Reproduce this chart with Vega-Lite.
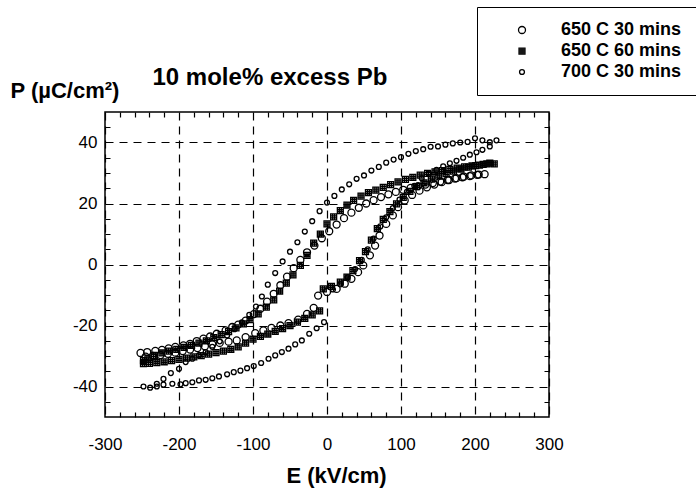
{
"$schema": "https://vega.github.io/schema/vega-lite/v6.json",
"width": 444, "height": 305,
"autosize": "none",
"padding": {"left": 105, "top": 112, "right": 147, "bottom": 86},
"background": "white",
"config": {
  "font": "Liberation Sans",
  "view": {"stroke": "black", "strokeWidth": 1.5},
  "axis": {"labelFont": "Liberation Sans", "titleFont": "Liberation Sans", "labelColor": "black", "titleColor": "black"}
},
"datasets": {"d": [
{"s":"a","E":213,"P":29.6},{"s":"a","E":203,"P":29.4},{"s":"a","E":193,"P":29.0},{"s":"a","E":183,"P":28.6},{"s":"a","E":173,"P":28.2},{"s":"a","E":163,"P":27.7},{"s":"a","E":153,"P":27.2},{"s":"a","E":143,"P":26.7},{"s":"a","E":133,"P":26.2},{"s":"a","E":123,"P":25.7},{"s":"a","E":113,"P":25.1},{"s":"a","E":103,"P":24.5},{"s":"a","E":93,"P":23.8},{"s":"a","E":83,"P":23.0},{"s":"a","E":73,"P":22.1},{"s":"a","E":63,"P":21.1},{"s":"a","E":53,"P":20.0},{"s":"a","E":43,"P":18.6},{"s":"a","E":33,"P":17.0},{"s":"a","E":23,"P":15.2},{"s":"a","E":13,"P":13.1},{"s":"a","E":3,"P":10.9},{"s":"a","E":-7,"P":8.6},{"s":"a","E":-17,"P":6.2},{"s":"a","E":-27,"P":4.0},{"s":"a","E":-36,"P":1.5},{"s":"a","E":-45,"P":-1.2},{"s":"a","E":-54,"P":-4.0},{"s":"a","E":-63,"P":-6.8},{"s":"a","E":-72,"P":-9.6},{"s":"a","E":-81,"P":-12.2},{"s":"a","E":-90,"P":-14.5},{"s":"a","E":-99,"P":-16.3},{"s":"a","E":-110,"P":-18.4},{"s":"a","E":-120,"P":-19.7},{"s":"a","E":-128,"P":-20.5},{"s":"a","E":-137,"P":-21.6},{"s":"a","E":-149,"P":-22.7},{"s":"a","E":-158,"P":-23.6},{"s":"a","E":-167,"P":-24.3},{"s":"a","E":-176,"P":-25.1},{"s":"a","E":-185,"P":-26.0},{"s":"a","E":-194,"P":-26.5},{"s":"a","E":-205,"P":-27.0},{"s":"a","E":-214,"P":-27.5},{"s":"a","E":-223,"P":-28.0},{"s":"a","E":-232,"P":-28.3},{"s":"a","E":-243,"P":-28.7},{"s":"a","E":-252,"P":-29.0},
{"s":"a","E":-245,"P":-30.2},{"s":"a","E":-235,"P":-30.0},{"s":"a","E":-225,"P":-29.7},{"s":"a","E":-215,"P":-29.3},{"s":"a","E":-205,"P":-28.9},{"s":"a","E":-195,"P":-28.4},{"s":"a","E":-185,"P":-27.9},{"s":"a","E":-175,"P":-27.4},{"s":"a","E":-165,"P":-26.8},{"s":"a","E":-155,"P":-26.2},{"s":"a","E":-145,"P":-25.7},{"s":"a","E":-133,"P":-25.3},{"s":"a","E":-122,"P":-24.9},{"s":"a","E":-110,"P":-23.8},{"s":"a","E":-97,"P":-22.5},{"s":"a","E":-86,"P":-21.6},{"s":"a","E":-75,"P":-20.8},{"s":"a","E":-63,"P":-20.0},{"s":"a","E":-52,"P":-19.2},{"s":"a","E":-39,"P":-18.1},{"s":"a","E":-27,"P":-16.2},{"s":"a","E":-18,"P":-14.2},{"s":"a","E":-12,"P":-10.2},{"s":"a","E":0,"P":-9.0},{"s":"a","E":13,"P":-8.0},{"s":"a","E":24,"P":-6.3},{"s":"a","E":33,"P":-4.7},{"s":"a","E":42,"P":-2.5},{"s":"a","E":49,"P":-0.3},{"s":"a","E":58,"P":3.0},{"s":"a","E":65,"P":6.2},{"s":"a","E":71,"P":9.5},{"s":"a","E":80,"P":13.3},{"s":"a","E":89,"P":16.1},{"s":"a","E":96,"P":18.8},{"s":"a","E":105,"P":21.0},{"s":"a","E":115,"P":22.8},{"s":"a","E":125,"P":24.2},{"s":"a","E":135,"P":25.3},{"s":"a","E":145,"P":26.2},{"s":"a","E":155,"P":27.0},{"s":"a","E":165,"P":27.7},{"s":"a","E":175,"P":28.3},{"s":"a","E":185,"P":28.8},{"s":"a","E":195,"P":29.2},{"s":"a","E":205,"P":29.5},
{"s":"b","E":226,"P":33.0},{"s":"b","E":216,"P":33.0},{"s":"b","E":206,"P":32.6},{"s":"b","E":196,"P":32.3},{"s":"b","E":186,"P":32.0},{"s":"b","E":176,"P":31.6},{"s":"b","E":166,"P":31.2},{"s":"b","E":156,"P":30.8},{"s":"b","E":146,"P":30.4},{"s":"b","E":136,"P":29.9},{"s":"b","E":126,"P":29.3},{"s":"b","E":116,"P":28.6},{"s":"b","E":106,"P":27.9},{"s":"b","E":96,"P":27.1},{"s":"b","E":86,"P":26.2},{"s":"b","E":76,"P":25.3},{"s":"b","E":66,"P":24.4},{"s":"b","E":56,"P":23.6},{"s":"b","E":46,"P":22.4},{"s":"b","E":36,"P":21.0},{"s":"b","E":27,"P":19.5},{"s":"b","E":18,"P":17.7},{"s":"b","E":9,"P":15.6},{"s":"b","E":0,"P":13.3},{"s":"b","E":-9,"P":10.0},{"s":"b","E":-18,"P":7.0},{"s":"b","E":-27,"P":3.0},{"s":"b","E":-36,"P":-0.3},{"s":"b","E":-46,"P":-3.4},{"s":"b","E":-55,"P":-6.1},{"s":"b","E":-64,"P":-8.7},{"s":"b","E":-72,"P":-11.6},{"s":"b","E":-82,"P":-14.0},{"s":"b","E":-93,"P":-16.2},{"s":"b","E":-104,"P":-18.1},{"s":"b","E":-113,"P":-19.5},{"s":"b","E":-123,"P":-20.8},{"s":"b","E":-133,"P":-22.0},{"s":"b","E":-143,"P":-23.0},{"s":"b","E":-153,"P":-24.0},{"s":"b","E":-163,"P":-25.0},{"s":"b","E":-173,"P":-25.8},{"s":"b","E":-183,"P":-26.5},{"s":"b","E":-193,"P":-27.2},{"s":"b","E":-203,"P":-27.8},{"s":"b","E":-213,"P":-28.4},{"s":"b","E":-223,"P":-29.0},{"s":"b","E":-233,"P":-29.8},{"s":"b","E":-242,"P":-30.7},{"s":"b","E":-248,"P":-31.5},
{"s":"b","E":-248,"P":-32.5},{"s":"b","E":-240,"P":-32.4},{"s":"b","E":-230,"P":-32.2},{"s":"b","E":-220,"P":-31.9},{"s":"b","E":-210,"P":-31.5},{"s":"b","E":-200,"P":-31.1},{"s":"b","E":-190,"P":-30.7},{"s":"b","E":-180,"P":-30.3},{"s":"b","E":-170,"P":-29.9},{"s":"b","E":-160,"P":-29.4},{"s":"b","E":-150,"P":-28.9},{"s":"b","E":-140,"P":-28.4},{"s":"b","E":-130,"P":-27.8},{"s":"b","E":-120,"P":-27.0},{"s":"b","E":-110,"P":-25.8},{"s":"b","E":-100,"P":-24.5},{"s":"b","E":-90,"P":-23.6},{"s":"b","E":-80,"P":-22.8},{"s":"b","E":-70,"P":-21.9},{"s":"b","E":-60,"P":-21.0},{"s":"b","E":-50,"P":-20.0},{"s":"b","E":-40,"P":-18.9},{"s":"b","E":-30,"P":-17.7},{"s":"b","E":-20,"P":-16.5},{"s":"b","E":-10,"P":-15.2},{"s":"b","E":-5,"P":-8.0},{"s":"b","E":6,"P":-7.2},{"s":"b","E":18,"P":-5.8},{"s":"b","E":27,"P":-4.1},{"s":"b","E":35,"P":-2.0},{"s":"b","E":44,"P":1.3},{"s":"b","E":52,"P":4.2},{"s":"b","E":60,"P":8.0},{"s":"b","E":68,"P":11.8},{"s":"b","E":76,"P":14.8},{"s":"b","E":85,"P":17.3},{"s":"b","E":94,"P":19.9},{"s":"b","E":103,"P":22.0},{"s":"b","E":112,"P":24.0},{"s":"b","E":121,"P":25.5},{"s":"b","E":131,"P":26.8},{"s":"b","E":141,"P":28.0},{"s":"b","E":151,"P":29.0},{"s":"b","E":161,"P":29.8},{"s":"b","E":171,"P":30.6},{"s":"b","E":181,"P":31.3},{"s":"b","E":191,"P":31.9},{"s":"b","E":201,"P":32.4},{"s":"b","E":211,"P":32.8},{"s":"b","E":220,"P":33.2},
{"s":"c","E":229,"P":40.7},{"s":"c","E":220,"P":40.1},{"s":"c","E":210,"P":40.7},{"s":"c","E":200,"P":41.4},{"s":"c","E":190,"P":40.2},{"s":"c","E":180,"P":40.0},{"s":"c","E":170,"P":39.7},{"s":"c","E":160,"P":39.3},{"s":"c","E":150,"P":38.7},{"s":"c","E":140,"P":38.6},{"s":"c","E":130,"P":37.8},{"s":"c","E":120,"P":37.2},{"s":"c","E":110,"P":36.3},{"s":"c","E":100,"P":35.2},{"s":"c","E":90,"P":34.4},{"s":"c","E":80,"P":33.4},{"s":"c","E":70,"P":32.0},{"s":"c","E":60,"P":30.8},{"s":"c","E":50,"P":29.2},{"s":"c","E":40,"P":28.1},{"s":"c","E":30,"P":26.3},{"s":"c","E":20,"P":24.6},{"s":"c","E":10,"P":22.5},{"s":"c","E":0,"P":20.3},{"s":"c","E":-10,"P":17.5},{"s":"c","E":-20,"P":14.2},{"s":"c","E":-30,"P":10.8},{"s":"c","E":-40,"P":7.3},{"s":"c","E":-50,"P":4.2},{"s":"c","E":-60,"P":1.0},{"s":"c","E":-70,"P":-2.8},{"s":"c","E":-80,"P":-6.6},{"s":"c","E":-88,"P":-10.5},{"s":"c","E":-96,"P":-13.8},{"s":"c","E":-105,"P":-16.5},{"s":"c","E":-115,"P":-19.0},{"s":"c","E":-125,"P":-21.2},{"s":"c","E":-135,"P":-23.3},{"s":"c","E":-145,"P":-25.2},{"s":"c","E":-155,"P":-27.0},{"s":"c","E":-164,"P":-28.7},{"s":"c","E":-173,"P":-29.8},{"s":"c","E":-182,"P":-30.9},{"s":"c","E":-191,"P":-32.0},{"s":"c","E":-200,"P":-34.2},{"s":"c","E":-211,"P":-35.6},{"s":"c","E":-221,"P":-37.5},{"s":"c","E":-230,"P":-39.1},{"s":"c","E":-239,"P":-40.4},{"s":"c","E":-248,"P":-40.0},
{"s":"c","E":-230,"P":-40.0},{"s":"c","E":-221,"P":-39.4},{"s":"c","E":-209,"P":-39.1},{"s":"c","E":-198,"P":-39.3},{"s":"c","E":-191,"P":-38.9},{"s":"c","E":-182,"P":-38.6},{"s":"c","E":-173,"P":-38.0},{"s":"c","E":-164,"P":-37.8},{"s":"c","E":-155,"P":-37.3},{"s":"c","E":-146,"P":-36.7},{"s":"c","E":-135,"P":-36.0},{"s":"c","E":-126,"P":-35.3},{"s":"c","E":-117,"P":-34.8},{"s":"c","E":-108,"P":-34.0},{"s":"c","E":-99,"P":-33.3},{"s":"c","E":-89,"P":-32.3},{"s":"c","E":-79,"P":-30.9},{"s":"c","E":-70,"P":-29.8},{"s":"c","E":-61,"P":-28.7},{"s":"c","E":-52,"P":-27.6},{"s":"c","E":-43,"P":-26.2},{"s":"c","E":-34,"P":-24.9},{"s":"c","E":-24,"P":-22.7},{"s":"c","E":-14,"P":-20.9},{"s":"c","E":-4,"P":-18.9},{"s":"c","E":8,"P":-8.2},{"s":"c","E":18,"P":-6.5},{"s":"c","E":28,"P":-4.2},{"s":"c","E":38,"P":-1.5},{"s":"c","E":47,"P":1.5},{"s":"c","E":55,"P":5.0},{"s":"c","E":63,"P":8.5},{"s":"c","E":72,"P":12.5},{"s":"c","E":80,"P":15.5},{"s":"c","E":89,"P":18.5},{"s":"c","E":98,"P":21.3},{"s":"c","E":108,"P":23.8},{"s":"c","E":118,"P":25.8},{"s":"c","E":128,"P":28.3},{"s":"c","E":138,"P":29.8},{"s":"c","E":148,"P":31.0},{"s":"c","E":157,"P":32.2},{"s":"c","E":166,"P":33.2},{"s":"c","E":175,"P":34.0},{"s":"c","E":184,"P":35.0},{"s":"c","E":193,"P":36.0},{"s":"c","E":202,"P":36.8},{"s":"c","E":210,"P":37.6},{"s":"c","E":220,"P":38.7}
]},
"data": {"name": "d"},
"resolve": {"axis": {"x": "independent", "y": "independent"}},
"layer": [
  {
    "mark": {"type": "point", "filled": false, "color": "black", "strokeWidth": 1.3, "size": 49, "opacity": 1},
    "encoding": {
      "x": {"field": "E", "type": "quantitative", "scale": {"domain": [-300, 300], "nice": false, "zero": false},
        "axis": {"orient": "bottom", "values": [-300,-280,-260,-240,-220,-200,-180,-160,-140,-120,-100,-80,-60,-40,-20,0,20,40,60,80,100,120,140,160,180,200,220,240,260,280,300], "domain": false, "ticks": false,
          "grid": true, "gridColor": "black", "gridWidth": 1.2, "gridOpacity": 1,
          "gridDash": {"condition": {"test": "datum.value % 100 === 0", "value": [8, 6]}, "value": [5, 295, 5, 2000]},
          "labelFontSize": 17, "labelPadding": 19, "labelFlush": false, "labelOverlap": false,
          "labelExpr": "datum.value % 100 === 0 ? toString(datum.value) : ''",
          "title": "E (kV/cm)", "titleFontSize": 22, "titleFontWeight": "bold", "titleX": 231, "titleY": 65, "titleAlign": "center", "titleBaseline": "alphabetic"}},
      "y": {"field": "P", "type": "quantitative", "scale": {"domain": [-50, 50], "nice": false, "zero": false},
        "axis": {"orient": "left", "values": [-45,-40,-35,-30,-25,-20,-15,-10,-5,0,5,10,15,20,25,30,35,40,45], "domain": false, "ticks": false,
          "grid": true, "gridColor": "black", "gridWidth": 1.2, "gridOpacity": 1,
          "gridDash": {"condition": {"test": "datum.value % 20 === 0", "value": [8, 6]}, "value": [5, 434, 5, 2000]},
          "labelFontSize": 17, "labelPadding": 8, "labelFlush": false, "labelOverlap": false,
          "labelExpr": "datum.value % 20 === 0 ? toString(datum.value) : ''",
          "title": "P (µC/cm²)", "titleFontSize": 22, "titleFontWeight": "bold", "titleAngle": 0, "titleX": -95, "titleY": -15, "titleAlign": "left", "titleBaseline": "alphabetic"}},
      "shape": {"field": "s", "type": "nominal",
        "scale": {"domain": ["a", "b", "c"], "range": ["circle", "M-0.85,-0.85H0.85V0.85H-0.85ZM-0.28,-0.85V0.85M0.28,-0.85V0.85M-0.85,-0.28H0.85M-0.85,0.28H0.85", "M0.7,0A0.7,0.7,0,1,1,-0.7,0A0.7,0.7,0,1,1,0.7,0Z"]},
        "legend": {"orient": "none", "legendX": 372, "legendY": -105, "title": null, "strokeColor": "black", "fillColor": "white", "padding": 14,
          "labelFontSize": 18, "labelFontWeight": "bold", "labelFont": "Liberation Sans", "labelColor": "black",
          "symbolSize": 49, "symbolStrokeColor": "black", "symbolStrokeWidth": 1.3, "symbolFillColor": "transparent", "symbolOffset": 22, "labelOffset": 30, "rowPadding": 3,
          "labelExpr": "datum.label == 'a' ? '650 C 30 mins' : datum.label == 'b' ? '650 C 60 mins' : '700 C 30 mins'"}}
    }
  },
  {
    "mark": {"type": "point", "opacity": 0},
    "encoding": {
      "x": {"field": "E", "type": "quantitative", "scale": {"domain": [-300, 300], "nice": false, "zero": false},
        "axis": {"orient": "top", "values": [0], "ticks": false, "labels": false, "domain": false, "grid": false,
          "title": "10 mole% excess Pb", "titleFontSize": 24, "titleFontWeight": "bold", "titleX": 47, "titleY": -28, "titleAlign": "left", "titleBaseline": "alphabetic", "titleAngle": 0}},
      "y": {"field": "P", "type": "quantitative", "scale": {"domain": [-50, 50], "nice": false, "zero": false}, "axis": null}
    }
  }
]
}
